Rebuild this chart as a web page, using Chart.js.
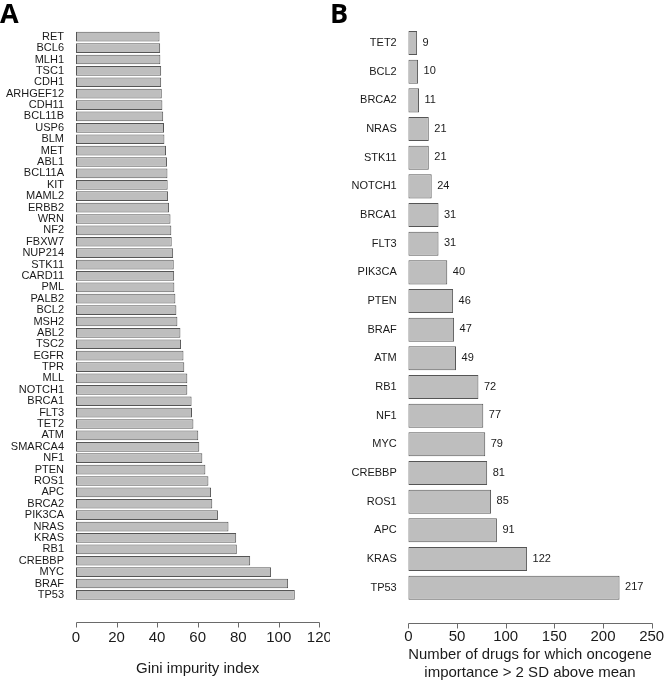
<!DOCTYPE html>
<html>
<head>
<meta charset="utf-8">
<script src="https://cdn.jsdelivr.net/npm/chart.js@4.4.1/dist/chart.umd.min.js"></script>
<style>
  html, body { margin: 0; padding: 0; background: #fff; }
  #wrap { position: relative; width: 665px; height: 684px; overflow: hidden; }
  .panel { position: absolute; top: 0; }
  .letter { position: absolute; font-family: "Open Sans", "Liberation Sans", sans-serif; font-weight: 700; font-size: 27px; line-height: 27px; color: #000; }
</style>
</head>
<body>
<div id="wrap">
  <canvas id="cA" class="panel" width="330" height="684" style="left:0px"></canvas>
  <canvas id="cB" class="panel" width="335" height="684" style="left:330px"></canvas>
  <div class="letter" style="left:0px; top:-1px">A</div>
  <div class="letter" style="left:330px; top:-1px">B</div>
</div>
<script>
// ---------- Panel A data ----------
const genesA = ['RET','BCL6','MLH1','TSC1','CDH1','ARHGEF12','CDH11','BCL11B','USP6','BLM',
  'MET','ABL1','BCL11A','KIT','MAML2','ERBB2','WRN','NF2','FBXW7','NUP214',
  'STK11','CARD11','PML','PALB2','BCL2','MSH2','ABL2','TSC2','EGFR','TPR',
  'MLL','NOTCH1','BRCA1','FLT3','TET2','ATM','SMARCA4','NF1','PTEN','ROS1',
  'APC','BRCA2','PIK3CA','NRAS','KRAS','RB1','CREBBP','MYC','BRAF','TP53'];
const giniA = [41.2, 41.5, 41.6, 42.0, 42.0, 42.3, 42.6, 43.0, 43.4, 43.6,
  44.4, 44.9, 45.1, 45.2, 45.4, 45.9, 46.6, 47.0, 47.2, 47.9,
  48.2, 48.4, 48.5, 49.0, 49.5, 50.0, 51.5, 51.8, 53.0, 53.4,
  54.9, 54.9, 57.0, 57.2, 57.9, 60.3, 60.8, 62.3, 63.8, 65.3,
  66.6, 67.2, 70.0, 75.2, 79.0, 79.3, 85.9, 96.2, 104.6, 107.9];
const ticksA = [0, 20, 40, 60, 80, 100, 120];
const titleA = 'Gini impurity index';

// ---------- Panel B data ----------
const genesB = ['TET2','BCL2','BRCA2','NRAS','STK11','NOTCH1','BRCA1','FLT3','PIK3CA','PTEN',
  'BRAF','ATM','RB1','NF1','MYC','CREBBP','ROS1','APC','KRAS','TP53'];
const countsB = [9, 10, 11, 21, 21, 24, 31, 31, 40, 46, 47, 49, 72, 77, 79, 81, 85, 91, 122, 217];
const ticksB = [0, 50, 100, 150, 200, 250];
const titleB = ['Number of drugs for which oncogene', 'importance > 2 SD above mean'];

const FONT = '"Liberation Sans", Arial, Helvetica, sans-serif';
const TEXT = '#1a1a1a';
const BAR_FILL = '#bebebe';
const BAR_EDGE = '#555555';
const AXIS = '#6a6a6a';

// R-style detached x axis, drawn from the chart's own x scale
const rAxis = {
  id: 'rAxis',
  afterDraw(chart, args, opts) {
    const xs = chart.scales.x;
    const ctx = chart.ctx;
    const y0 = Math.round(chart.chartArea.bottom + opts.gap) + 0.5;
    ctx.save();
    ctx.strokeStyle = AXIS;
    ctx.lineWidth = 1;
    ctx.beginPath();
    const xa = Math.round(xs.getPixelForValue(xs.min)) + 0.5;
    const xb = Math.round(xs.getPixelForValue(xs.max)) + 0.5;
    ctx.moveTo(xa, y0); ctx.lineTo(xb, y0);
    xs.ticks.forEach(t => {
      const px = Math.round(xs.getPixelForValue(t.value)) + 0.5;
      ctx.moveTo(px, y0); ctx.lineTo(px, y0 + opts.len);
    });
    ctx.stroke();
    ctx.restore();
  }
};

const valueLabels = {
  id: 'valueLabels',
  afterDatasetsDraw(chart, args, opts) {
    if (!opts.enabled) return;
    const ctx = chart.ctx;
    const meta = chart.getDatasetMeta(0);
    const vals = chart.data.datasets[0].data;
    ctx.save();
    ctx.font = '11px ' + FONT;
    ctx.fillStyle = TEXT;
    ctx.textAlign = 'left';
    ctx.textBaseline = 'middle';
    meta.data.forEach((bar, i) => {
      ctx.fillText(String(vals[i]), bar.x + 5.5, bar.y - 0.5);
    });
    ctx.restore();
  }
};

function makeChart(canvasId, labels, values, ticks, title, cfg) {
  return new Chart(document.getElementById(canvasId), {
    type: 'bar',
    data: {
      labels: labels,
      datasets: [{
        data: values,
        backgroundColor: BAR_FILL,
        borderColor: BAR_EDGE,
        borderWidth: 1,
        borderSkipped: false,
        barPercentage: cfg.barPct,
        categoryPercentage: 1.0
      }]
    },
    options: {
      indexAxis: 'y',
      responsive: false,
      maintainAspectRatio: false,
      devicePixelRatio: 1,
      animation: false,
      layout: { padding: { top: cfg.top, left: 0, right: cfg.right, bottom: 0 } },
      plugins: {
        legend: { display: false },
        tooltip: { enabled: false },
        rAxis: { gap: cfg.gap, len: 5 },
        valueLabels: { enabled: cfg.values }
      },
      scales: {
        x: {
          type: 'linear',
          min: ticks[0],
          max: ticks[ticks.length - 1],
          afterBuildTicks: s => { s.ticks = ticks.map(v => ({ value: v })); },
          afterFit: s => { s.height = cfg.xHeight; s.paddingLeft = 0; s.paddingRight = 0; },
          grid: { display: false, drawTicks: false },
          border: { display: false },
          ticks: {
            padding: cfg.xTickPad,
            color: TEXT,
            font: { family: FONT, size: 15 },
            maxRotation: 0,
            autoSkip: false
          },
          title: {
            display: true,
            text: title,
            color: TEXT,
            font: { family: FONT, size: 15, lineHeight: 1.2 },
            padding: { top: 0, bottom: cfg.titlePad }
          }
        },
        y: {
          type: 'category',
          offset: true,
          afterFit: s => { s.width = cfg.yWidth; s.paddingTop = 0; s.paddingBottom = 0; },
          grid: { display: false, drawTicks: false },
          border: { display: false },
          ticks: {
            padding: cfg.yTickPad,
            color: TEXT,
            font: { family: FONT, size: 11 },
            autoSkip: false
          }
        }
      }
    },
    plugins: [rAxis, valueLabels]
  });
}

makeChart('cA', genesA, giniA, ticksA, titleA, {
  barPct: 0.85, top: 31, right: 10.67, xHeight: 83.4, gap: 21.4,
  xTickPad: 28.4, titlePad: 6, yWidth: 76, yTickPad: 12, values: false
});

makeChart('cB', genesB, countsB, ticksB, titleB, {
  barPct: 0.84, top: 28.67, right: 13.33, xHeight: 82, gap: 21,
  xTickPad: 25.7, titlePad: 2, yWidth: 78.33, yTickPad: 11.6, values: true
});
</script>
</body>
</html>
